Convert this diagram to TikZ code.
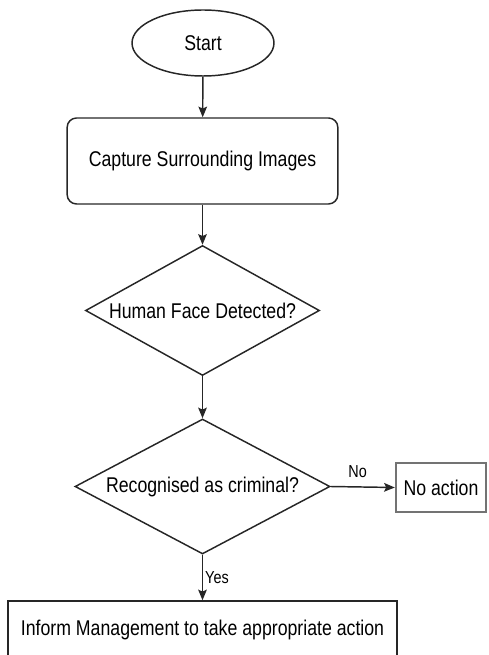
\documentclass[tikz,border=0pt]{standalone}
\usepackage{fontspec}
\setmainfont{Liberation Sans}[FakeStretch=0.83]
\usetikzlibrary{shapes.geometric,arrows.meta}

\tikzset{
    linea/.style={draw=black!85, line width=1.1pt},
    flecha/.style={linea, -{Stealth[length=8pt, width=6.5pt, inset=1.5pt]}},
    inicio/.style={linea, ellipse, minimum width=106.5pt, minimum height=49.5pt, inner sep=0pt},
    proceso/.style={linea, rectangle, rounded corners=7pt, minimum width=203pt, minimum height=64.5pt},
    decision/.style={linea, diamond, shape aspect=1.8, inner sep=0pt},
    caja/.style={linea, rectangle, inner sep=0pt},
    etiqueta/.style={font=\fontsize{13}{15}\selectfont, inner sep=1.5pt}
}

\begin{document}
\begin{tikzpicture}[x=0.75pt, y=-0.75pt, font=\fontsize{16}{18}\selectfont]
    \useasboundingbox (0,0) rectangle (488,655);

    % Nodos
    \node[inicio] (start) at (203,43) {Start};
    \node[proceso] (capture) at (202.5,161) {Capture Surrounding Images};
    \node[decision, minimum width=175.5pt, minimum height=97.5pt] (face) at (202.5,310.5) {Human Face Detected?};
    \node[decision, minimum width=191.25pt, minimum height=101.25pt] (criminal) at (202.5,486.5) {Recognised as criminal?};
    \node[caja, draw=black!55, line width=1.3pt, minimum width=68pt, minimum height=36.75pt] (noaction) at (441,487.5) {No action};
    \node[caja, minimum width=291.75pt, minimum height=43.5pt] (inform) at (202.5,630) {Inform Management to take appropriate action};

    % Flechas
    \draw[flecha] (start) -- (capture);
    \draw[flecha] (capture) -- (face);
    \draw[flecha] (face) -- (criminal);
    \draw[flecha] (criminal.east) -- (noaction.west) node[etiqueta, pos=0.42, above=5pt]{No};
    \draw[flecha] (criminal.south) -- (inform.north) node[etiqueta, midway, right]{Yes};
\end{tikzpicture}
\end{document}
